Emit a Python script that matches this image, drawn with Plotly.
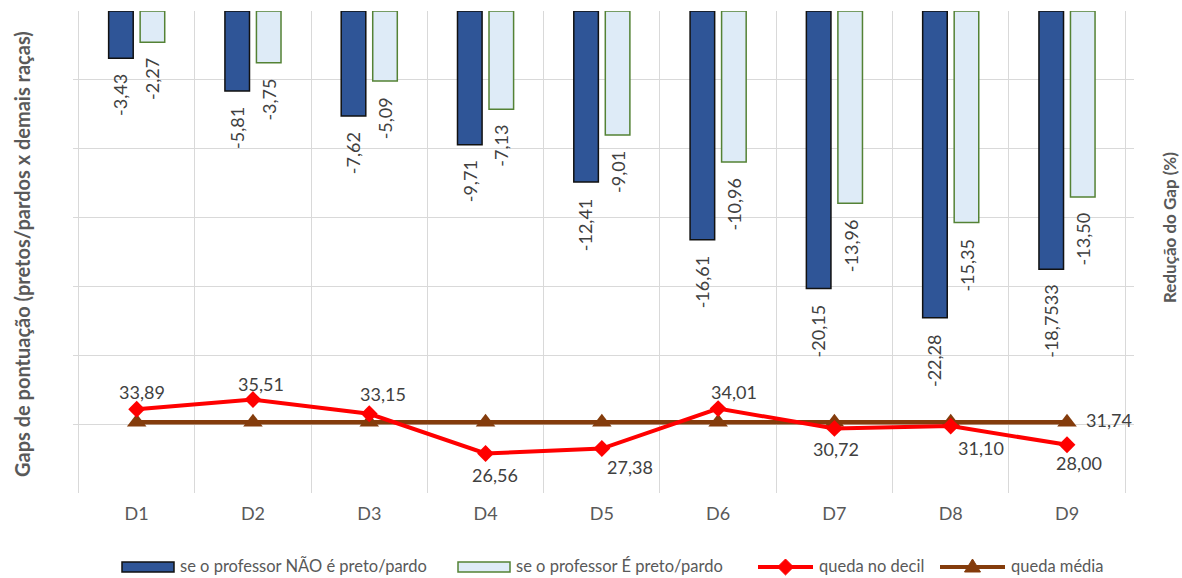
import plotly.graph_objects as go

# Data
decis = ["D1", "D2", "D3", "D4", "D5", "D6", "D7", "D8", "D9"]
gap_prof_nao_negro = [-3.43, -5.81, -7.62, -9.71, -12.41, -16.61, -20.15, -22.28, -18.7533]
gap_prof_negro = [-2.27, -3.75, -5.09, -7.13, -9.01, -10.96, -13.96, -15.35, -13.50]
queda_decil = [33.89, 35.51, 33.15, 26.56, 27.38, 34.01, 30.72, 31.10, 28.00]
queda_media = [31.74] * 9

# Styling
FONT = "Lato, Calibri, Carlito, sans-serif"
NAVY = "#2F5597"
LIGHT = "#DEEBF7"
GREEN = "#548235"
RED = "#FF0000"
BROWN = "#843C0C"
TXT = "#404040"
AXT = "#595959"
GRID = "#D9D9D9"

# plot area in pixels (figure 1182 x 578)
L, R, T, B = 73, 48, 11, 85
W_FIG, H_FIG = 1182, 578
PW, PH = W_FIG - L - R, H_FIG - T - B


def px_x(x):
    return (x - L) / PW


def px_y(y):
    return (H_FIG - B - y) / PH


def fmt(v):
    s = f"{v:.2f}" if round(v, 2) == v else f"{v:.4f}"
    return s.replace(".", ",")


fig = go.Figure()

fig.add_trace(go.Bar(
    x=decis, y=gap_prof_nao_negro, name="se o professor NÃO é preto/pardo",
    marker=dict(color=NAVY, line=dict(color="#111111", width=1.5)),
    yaxis="y", showlegend=False,
))
fig.add_trace(go.Bar(
    x=decis, y=gap_prof_negro, name="se o professor É preto/pardo",
    marker=dict(color=LIGHT, line=dict(color=GREEN, width=1.5)),
    yaxis="y", showlegend=False,
))
fig.add_trace(go.Scatter(
    x=decis, y=queda_media, name="queda média", yaxis="y2", mode="lines+markers",
    line=dict(color=BROWN, width=4.5),
    marker=dict(symbol="triangle-up", size=17, color=BROWN),
    showlegend=False,
))
fig.add_trace(go.Scatter(
    x=decis, y=queda_decil, name="queda no decil", yaxis="y2", mode="lines+markers",
    line=dict(color=RED, width=4),
    marker=dict(symbol="diamond", size=13, color=RED),
    showlegend=False,
))

annotations = []

# rotated value labels under each bar
BAR_SHIFT = 16
for series, dx in ((gap_prof_nao_negro, -BAR_SHIFT), (gap_prof_negro, BAR_SHIFT)):
    for d, v in zip(decis, series):
        annotations.append(dict(
            x=d, y=v, xref="x", yref="y", text=fmt(v), showarrow=False,
            textangle=-90, xanchor="center", yanchor="top",
            xshift=dx, yshift=-14,
            font=dict(family=FONT, size=18, color=TXT),
        ))

# labels for the decile line (pixel offsets from each marker)
label_offsets = [(5, 17), (8, 16), (14, 20), (9, -22), (28, -18),
                 (16, 17), (2, -21), (30, -22), (12, -18)]
for d, v, (dx, dy) in zip(decis, queda_decil, label_offsets):
    annotations.append(dict(
        x=d, y=v, xref="x", yref="y2", text=fmt(v), showarrow=False,
        xanchor="center", yanchor="middle", xshift=dx, yshift=dy,
        font=dict(family=FONT, size=18, color=TXT),
    ))

# label for the average line at the last decile
annotations.append(dict(
    x=decis[-1], y=queda_media[-1], xref="x", yref="y2", text=fmt(queda_media[-1]),
    showarrow=False, xanchor="center", yanchor="middle", xshift=42, yshift=2,
    font=dict(family=FONT, size=18, color=TXT),
))

# axis titles
annotations.append(dict(
    x=px_x(22), y=px_y(254), xref="paper", yref="paper",
    text="<b>Gaps de pontuação (pretos/pardos x demais raças)</b>", showarrow=False,
    textangle=-90, xanchor="center", yanchor="middle",
    font=dict(family=FONT, size=20, color=AXT),
))
annotations.append(dict(
    x=px_x(1170), y=px_y(228), xref="paper", yref="paper",
    text="<b>Redução do Gap (%)</b>", showarrow=False,
    textangle=-90, xanchor="center", yanchor="middle",
    font=dict(family=FONT, size=17, color=AXT),
))

# legend drawn along the bottom
shapes = []
LEG_Y = 567
legend_items = [
    ("box", NAVY, "#111111", 122, 174, "se o professor NÃO é preto/pardo"),
    ("box", LIGHT, GREEN, 458, 510, "se o professor É preto/pardo"),
    ("diamond", RED, RED, 758, 813, "queda no decil"),
    ("triangle", BROWN, BROWN, 940, 1005, "queda média"),
]
for kind, fill, edge, x0, x1, label in legend_items:
    if kind == "box":
        shapes.append(dict(
            type="rect", xref="paper", yref="paper",
            x0=px_x(x0), x1=px_x(x1), y0=px_y(LEG_Y - 5), y1=px_y(LEG_Y + 5),
            fillcolor=fill, line=dict(color=edge, width=1.5), layer="above",
        ))
    else:
        shapes.append(dict(
            type="line", xref="paper", yref="paper",
            x0=px_x(x0), x1=px_x(x1), y0=px_y(LEG_Y), y1=px_y(LEG_Y),
            line=dict(color=fill, width=4), layer="above",
        ))
        cx = (x0 + x1) / 2
        if kind == "diamond":
            pts = [(cx, LEG_Y - 8), (cx + 8, LEG_Y), (cx, LEG_Y + 8), (cx - 8, LEG_Y)]
        else:
            pts = [(cx, LEG_Y - 8), (cx + 8, LEG_Y + 5), (cx - 8, LEG_Y + 5)]
        path = "M " + " L ".join(f"{px_x(a):.5f},{px_y(b):.5f}" for a, b in pts) + " Z"
        shapes.append(dict(
            type="path", xref="paper", yref="paper", path=path,
            fillcolor=fill, line=dict(color=fill, width=1), layer="above",
        ))
    annotations.append(dict(
        x=px_x(x1 + 4), y=px_y(LEG_Y - 1), xref="paper", yref="paper", text=label,
        showarrow=False, xanchor="left", yanchor="middle",
        font=dict(family=FONT, size=16.5, color=AXT),
    ))

fig.update_layout(
    width=W_FIG, height=H_FIG,
    margin=dict(l=L, r=R, t=T, b=B, pad=0),
    paper_bgcolor="white", plot_bgcolor="white",
    barmode="group", bargap=0.458, bargroupgap=0.22,
    separators=",.",
    showlegend=False,
    font=dict(family=FONT, color=AXT),
    xaxis=dict(
        type="category", tickson="boundaries", showgrid=True, gridcolor=GRID, gridwidth=1,
        showline=False, zeroline=False, ticks="",
        tickfont=dict(family=FONT, size=18, color=AXT),
        ticklabelstandoff=8,
    ),
    yaxis=dict(
        range=[-35, 0], dtick=5, showgrid=True, gridcolor=GRID, gridwidth=1,
        zeroline=False, showline=False, showticklabels=False, ticks="",
    ),
    yaxis2=dict(
        range=[20, 100], overlaying="y", side="right", showgrid=False,
        zeroline=False, showline=False, showticklabels=False, ticks="",
    ),
    annotations=annotations,
    shapes=shapes,
)

fig.write_html("out.html")
